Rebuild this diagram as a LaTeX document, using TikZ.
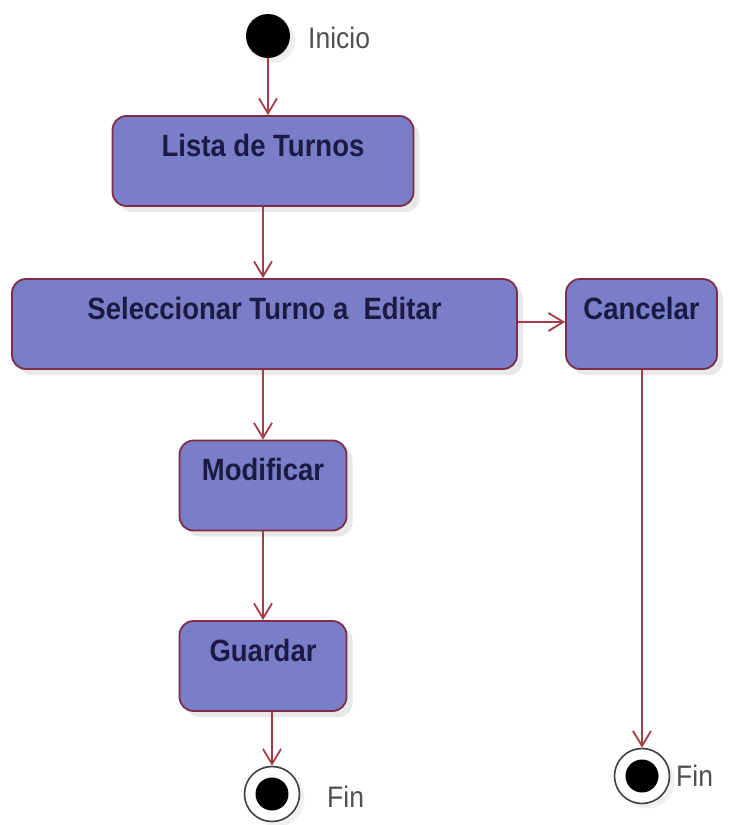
\documentclass[tikz,border=0pt]{standalone}
\usepackage{fontspec}
\setmainfont{Liberation Sans}
\usetikzlibrary{arrows.meta,shadows}
\definecolor{actfill}{RGB}{122,126,200}
\definecolor{actline}{RGB}{125,45,70}
\definecolor{flowline}{RGB}{165,60,72}
\definecolor{acttext}{RGB}{26,26,66}
\definecolor{lbltext}{RGB}{80,80,80}
% slightly tall lettering
\newcommand\talltext[1]{\scalebox{1}[1.12]{#1}}
\tikzset{
  activity/.style={draw=actline, line width=1.8pt, fill=actfill, rounded corners=14pt,
    font=\bfseries\fontsize{27.5}{30}\selectfont, text=acttext,
    inner xsep=0pt, inner ysep=19pt, text height=21pt, text depth=31pt,
    drop shadow={shadow xshift=6pt, shadow yshift=-6pt, fill=black!9, opacity=1}},
  flow/.style={draw=flowline, line width=1.8pt, -{Straight Barb[length=15pt,width=18pt,line width=1.8pt]}},
  initial/.style={circle, fill=black, minimum size=44pt, inner sep=0pt,
    drop shadow={shadow xshift=5pt, shadow yshift=-5pt, fill=black!7, opacity=1}},
  final/.style={circle, draw=black!75, line width=1.6pt, fill=white, minimum size=55pt, inner sep=0pt,
    path picture={\fill[black] (path picture bounding box.center) circle (16.5pt);},
    drop shadow={shadow xshift=5pt, shadow yshift=-5pt, fill=black!6, opacity=1}},
  tag/.style={font=\fontsize{26.5}{28}\selectfont, text=lbltext, anchor=west, inner sep=0pt}
}
\begin{document}
\begin{tikzpicture}[x=1pt,y=-1pt]
\useasboundingbox[fill=white] (0,0) rectangle (732,825);

% start state
\node[initial] (start) at (268,36) {};
\node[tag] (startlbl) at (308,38) {\talltext{Inicio}};

% actions
\node[activity, minimum width=301pt, minimum height=90pt] (lista) at (263,161) {\talltext{Lista de Turnos}};
\node[activity, minimum width=505pt, minimum height=90pt] (selec) at (264.5,324) {\talltext{Seleccionar Turno a\ \ Editar}};
\node[activity, minimum width=151pt, minimum height=90pt] (cancel) at (641.5,324) {\talltext{Cancelar}};
\node[activity, minimum width=167pt, minimum height=89pt] (modif) at (263,485.5) {\talltext{Modificar}};
\node[activity, minimum width=167pt, minimum height=90pt] (guardar) at (263,666) {\talltext{Guardar}};

% final states
\node[final] (fin1) at (272,794) {};
\node[tag] (fin1lbl) at (327,797) {\talltext{Fin}};
\node[final] (fin2) at (642,776) {};
\node[tag] (fin2lbl) at (676,776) {\talltext{Fin}};

% transitions
\draw[flow] (start.south) -- (lista.north -| start.south);
\draw[flow] (lista.south) -- (selec.north -| lista.south);
\draw[flow] (selec.east |- 0,322) -- (cancel.west |- 0,322);
\draw[flow] (selec.south -| modif.north) -- (modif.north);
\draw[flow] (modif.south) -- (guardar.north);
\draw[flow] (guardar.south -| fin1.north) -- (fin1.north);
\draw[flow] (cancel.south -| fin2.north) -- (fin2.north);
\end{tikzpicture}
\end{document}
